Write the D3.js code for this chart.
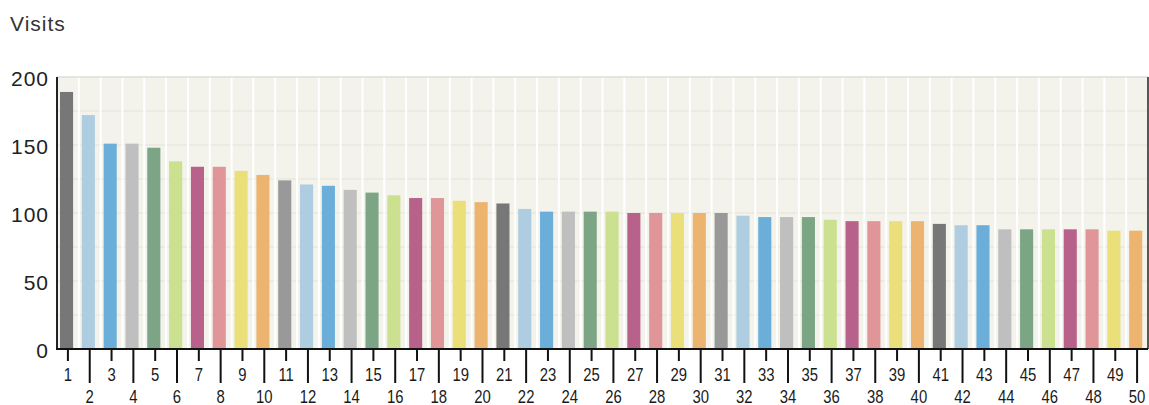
<!DOCTYPE html>
<meta charset="utf-8">
<script src="https://d3js.org/d3.v7.min.js"></script>
<style>
  body { margin: 0; background: #fff; }
  text { font-family: "Liberation Sans", Arial, sans-serif; }
</style>
<div id="chart"></div>
<script>
  // data
  var categories = ["1","2","3","4","5","6","7","8","9","10",
    "11","12","13","14","15","16","17","18","19","20",
    "21","22","23","24","25","26","27","28","29","30",
    "31","32","33","34","35","36","37","38","39","40",
    "41","42","43","44","45","46","47","48","49","50"];
  var visits = [189, 172, 151, 151, 148, 138, 134, 134, 131, 128,
    124, 121, 120, 117, 115, 113, 111, 111, 109, 108,
    107, 103, 101, 101, 101, 101, 100, 100, 100, 100,
    100, 98, 97, 97, 97, 95, 94, 94, 94, 94,
    92, 91, 91, 88, 88, 88, 88, 88, 87, 87];
  var yTicks = [0, 50, 100, 150, 200];
  var yGrid = [25, 50, 75, 100, 125, 150, 175];
  var colors = ["#777777", "#afcde1", "#6aaed9", "#bfbfbf", "#7ca586",
    "#cbe18f", "#b8628b", "#e09598", "#ebdf79", "#ecb46f",
    "#999999", "#afcde1", "#6aaed9", "#bfbfbf", "#7ca586",
    "#cbe18f", "#b8628b", "#e09598", "#ebdf79", "#ecb46f"];

  var W = 1149, H = 405;
  var margin = { top: 77, right: 1, bottom: 56, left: 57 },
    width = W - margin.left - margin.right,
    height = H - margin.top - margin.bottom;

  var root = d3.select("#chart").append("svg")
    .attr("width", W).attr("height", H);

  root.append("text")
    .attr("x", 10).attr("y", 31)
    .style("font-size", "21px").style("letter-spacing", "1px").style("fill", "#333")
    .text("Visits");

  var svg = root.append("g")
    .attr("transform", "translate(" + margin.left + "," + margin.top + ")");

  var x = d3.scaleBand().domain(categories).range([0, width]).padding(0);
  var y = d3.scaleLinear().domain([0, 200]).range([height, 0]);

  // plot background
  svg.append("rect")
    .attr("width", width).attr("height", height)
    .attr("fill", "#f3f3eb");

  // horizontal grid
  svg.selectAll(".hgrid").data(yGrid).enter().append("line")
    .attr("x1", 0).attr("x2", width)
    .attr("y1", function (d) { return y(d); })
    .attr("y2", function (d) { return y(d); })
    .attr("stroke", "#e8e8df").attr("stroke-width", 1.5);

  // vertical white lines between bands
  svg.selectAll(".vgrid").data(categories.slice(1)).enter().append("line")
    .attr("x1", function (d) { return x(d); })
    .attr("x2", function (d) { return x(d); })
    .attr("y1", 0).attr("y2", height)
    .attr("stroke", "#fff").attr("stroke-width", 2);

  // bars
  var bw = x.bandwidth() * 0.6;
  svg.selectAll(".bar").data(visits).enter().append("rect")
    .attr("x", function (d, i) { return x(categories[i]) + 3; })
    .attr("y", function (d) { return y(d); })
    .attr("width", bw)
    .attr("height", function (d) { return height - y(d); })
    .attr("fill", function (d, i) { return colors[i % colors.length]; });

  // frame
  svg.append("line").attr("x1", 0).attr("x2", width).attr("y1", 0).attr("y2", 0)
    .attr("stroke", "#dddddd").attr("stroke-width", 1.5);
  svg.append("line").attr("x1", width).attr("x2", width).attr("y1", 0).attr("y2", height)
    .attr("stroke", "#222").attr("stroke-width", 1.5);
  svg.append("line").attr("x1", 0).attr("x2", 0).attr("y1", 0).attr("y2", height)
    .attr("stroke", "#222").attr("stroke-width", 2);
  svg.append("line").attr("x1", -1).attr("x2", width).attr("y1", height).attr("y2", height)
    .attr("stroke", "#111").attr("stroke-width", 2);

  // y labels
  svg.selectAll(".ylab").data(yTicks).enter().append("text")
    .attr("x", -8)
    .attr("y", function (d) { return y(d) + 9; })
    .attr("text-anchor", "end")
    .style("font-size", "21px").style("letter-spacing", "1px").style("fill", "#222")
    .text(function (d) { return d; });

  // x ticks, staggered
  var ticks = svg.selectAll(".xt").data(categories).enter().append("g")
    .attr("transform", function (d) { return "translate(" + (x(d) + x.bandwidth() / 2) + "," + height + ")"; });
  ticks.append("line")
    .attr("y1", 0)
    .attr("y2", function (d, i) { return i % 2 == 0 ? 12 : 34; })
    .attr("stroke", "#111").attr("stroke-width", 2);
  ticks.append("text")
    .attr("y", function (d, i) { return i % 2 == 0 ? 32 : 54 })
    .attr("text-anchor", "middle")
    .style("font-size", "17.5px").style("fill", "#1a1a1a")
    .attr("transform", "scale(0.85,1)")
    .text(function (d) { return d; });
</script>
